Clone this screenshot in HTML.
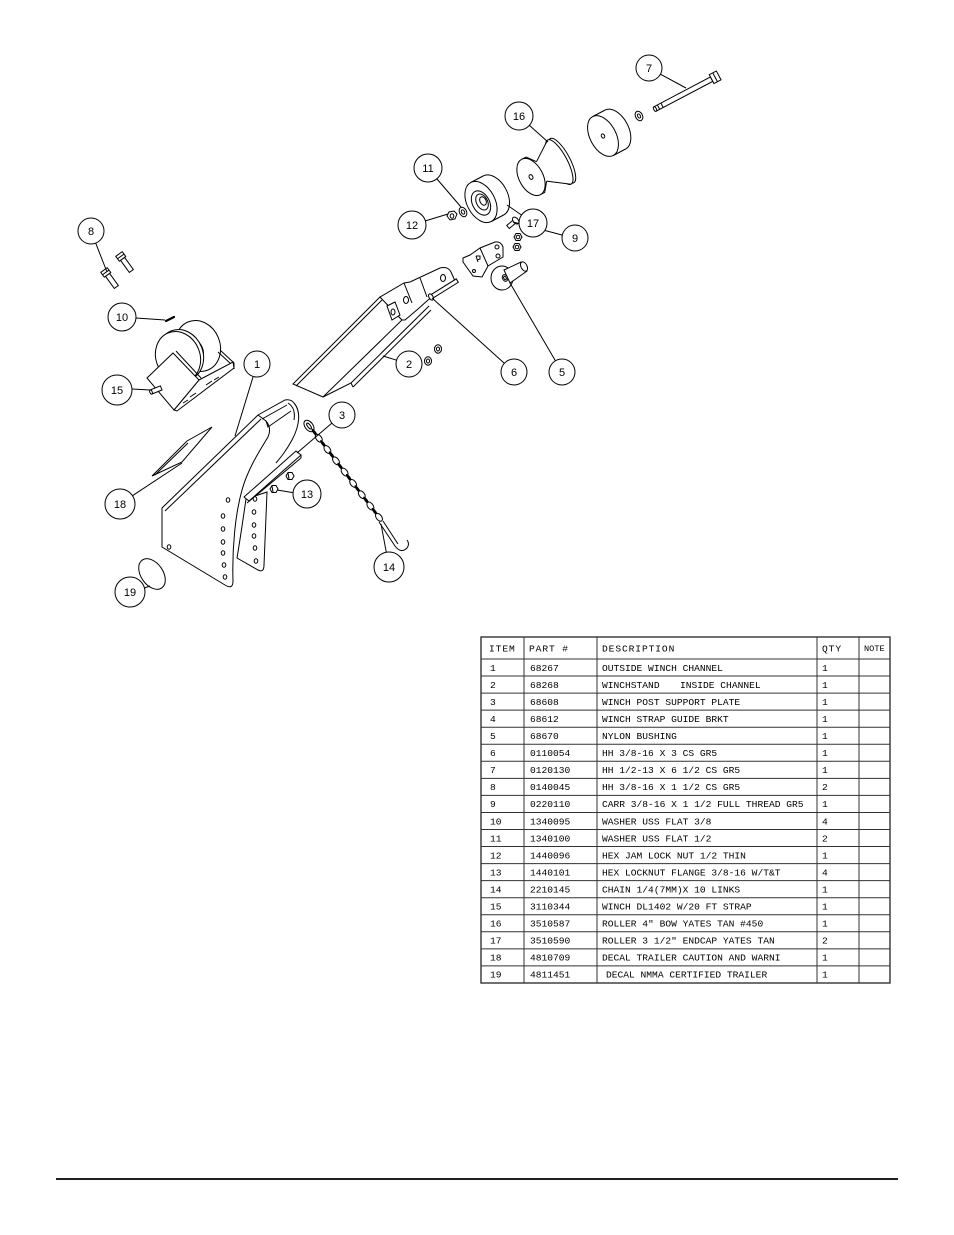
<!DOCTYPE html>
<html><head><meta charset="utf-8"><style>
html,body{margin:0;padding:0;background:#fff}
svg{display:block}
.l{stroke:#000;stroke-width:1;fill:none}
.w{stroke:#000;stroke-width:1;fill:#fff}
.bc{stroke:#000;stroke-width:1;fill:#fff}
.bt{font-family:"Liberation Sans",sans-serif;font-size:11px;text-anchor:middle;fill:#000}
.t{font-family:"Liberation Mono",monospace;font-size:9.6px;fill:#000}
.h{font-family:"Liberation Mono",monospace;font-size:9.6px;fill:#000;letter-spacing:0.9px}
.tl{stroke:#333;stroke-width:1;fill:none}
</style></head><body>
<svg width="954" height="1235" viewBox="0 0 954 1235" xmlns="http://www.w3.org/2000/svg">

<!-- ===== Bolt 7 ===== -->
<g transform="translate(655,109) rotate(-27.8)">
<rect class="w" x="0" y="-2.5" width="64" height="5"/>
<line class="l" x1="4" y1="-2.5" x2="4" y2="2.5"/>
<line class="l" x1="8" y1="-2.5" x2="8" y2="2.5"/>
<rect class="w" x="64" y="-5" width="8" height="10"/>
<line class="l" x1="68" y1="-5" x2="68" y2="5"/>
<ellipse class="w" cx="0" cy="0" rx="1.3" ry="2.5"/>
</g>
<ellipse class="w" cx="639" cy="116" rx="3.5" ry="5" transform="rotate(-28 639 116)"/>
<ellipse class="w" cx="639" cy="116" rx="1.4" ry="2.2" transform="rotate(-28 639 116)"/>

<!-- ===== Right endcap roller ===== -->
<ellipse class="w" cx="615.4" cy="129.5" rx="13" ry="22" transform="rotate(-28 615.4 129.5)"/>
<polygon points="592.8,116.5 605.2,110 625.6,149 613.3,155.5" fill="#fff"/>
<line class="l" x1="592.8" y1="116.5" x2="605.2" y2="110"/>
<line class="l" x1="613.3" y1="155.5" x2="625.6" y2="149"/>
<ellipse class="w" cx="603" cy="136" rx="13" ry="22" transform="rotate(-28 603 136)"/>
<ellipse class="w" cx="603" cy="136" rx="1.6" ry="2.2" transform="rotate(-28 603 136)"/>

<!-- ===== Bow roller 16 ===== -->
<ellipse class="w" cx="562" cy="160.7" rx="8" ry="25" transform="rotate(-28 562 160.7)"/>
<ellipse class="w" cx="559.3" cy="162.1" rx="8" ry="25" transform="rotate(-28 559.3 162.1)"/>
<polygon points="536.5,161.7 547.6,140 571,184.2 546.7,181.1" fill="#fff"/>
<line class="l" x1="536.5" y1="161.7" x2="547.6" y2="140"/>
<line class="l" x1="546.7" y1="181.1" x2="571" y2="184.2"/>
<polygon points="521.7,159.3 526.1,157 536.5,161.7 546.7,181.1 544.7,192.4 540.3,194.7" fill="#fff"/>
<polyline class="l" points="521.7,159.3 526.1,157 536.5,161.7"/>
<polyline class="l" points="540.3,194.7 544.7,192.4 546.7,181.1"/>
<ellipse class="w" cx="531" cy="177" rx="12" ry="20" transform="rotate(-28 531 177)"/>
<ellipse class="w" cx="531" cy="177" rx="1.8" ry="2.5" transform="rotate(-28 531 177)"/>

<!-- ===== Endcap roller 17 ===== -->
<ellipse class="w" cx="493.4" cy="195.5" rx="14" ry="22" transform="rotate(-28 493.4 195.5)"/>
<polygon points="470.8,182.5 483.1,176 503.6,215 491.3,221.5" fill="#fff"/>
<line class="l" x1="470.8" y1="182.5" x2="483.1" y2="176"/>
<line class="l" x1="491.3" y1="221.5" x2="503.6" y2="215"/>
<ellipse class="w" cx="481" cy="202" rx="14" ry="22" transform="rotate(-28 481 202)"/>
<ellipse class="l" cx="481" cy="203" rx="8.5" ry="13" transform="rotate(-28 481 203)"/>
<ellipse class="l" cx="482" cy="202" rx="5.5" ry="8.5" transform="rotate(-28 482 202)"/>
<ellipse class="l" cx="483" cy="201" rx="3" ry="4.5" transform="rotate(-28 483 201)"/>

<!-- washer 11, nut 12 -->
<ellipse class="w" cx="463" cy="212" rx="3.5" ry="5" transform="rotate(-28 463 212)"/>
<ellipse class="w" cx="463" cy="212" rx="1.5" ry="2.3" transform="rotate(-28 463 212)"/>
<polygon class="w" points="447,216 449,212 454,211 457,214 455,219 450,220"/>
<ellipse class="w" cx="452" cy="216" rx="1.8" ry="2.3"/>

<!-- carriage bolt 9 and nuts -->
<g transform="translate(508,227) rotate(-40)">
<rect class="w" x="0" y="-2" width="9" height="4"/>
<ellipse class="w" cx="10" cy="0" rx="2.5" ry="4"/>
</g>
<polygon class="w" points="514,237 516,233.5 520,233.5 522,237 520,240.5 516,240.5"/>
<circle class="l" cx="518" cy="237" r="1.8"/>
<polygon class="w" points="513,247 515,243.5 519,243.5 521,247 519,250.5 515,250.5"/>
<circle class="l" cx="517" cy="247" r="1.8"/>

<!-- strap guide bracket 4 -->
<path class="w" d="M463,258 L470,255 L480,248 L495,242 Q501,241 503,247 L503,257 L488,266 L482,277 L473,276 L463,262 Z"/>
<line class="l" x1="480" y1="248" x2="488" y2="266"/>
<circle class="w" cx="497" cy="247" r="2"/>
<circle class="w" cx="498" cy="256" r="2"/>
<circle class="w" cx="474" cy="271" r="1.5"/>
<path class="l" d="M476,256 L478,262 M476,256 L480,256 L480,259 L477,260"/>

<!-- bushing 5 -->
<ellipse class="w" cx="502" cy="278" rx="11" ry="12"/>
<polygon class="w" points="504,270 521,262 527,271 510,283"/>
<ellipse class="w" cx="524" cy="266.5" rx="3" ry="5" transform="rotate(-28 524 266.5)"/>
<ellipse class="w" cx="505" cy="278" rx="2.5" ry="3.5" transform="rotate(-28 505 278)"/>
<ellipse class="l" cx="505" cy="278" rx="1.2" ry="1.8" transform="rotate(-28 505 278)"/>

<!-- ===== Channel 2 ===== -->
<polygon class="w" points="293,384 380,297 402,320 323,397"/>
<line class="l" x1="296" y1="386" x2="382" y2="300"/>
<path class="l" d="M323,397 L351,383 L429,306"/>
<line class="l" x1="353" y1="387" x2="431" y2="310"/>
<line class="l" x1="351" y1="383" x2="353" y2="387"/>
<path class="w" d="M380,297 L404,283 L410,282 L440,268 Q448,266 451,272 L455,281 L441,291 L428,300 L418,309 L405,320 L402,320 Z"/>
<line class="l" x1="404" y1="283" x2="412" y2="303"/>
<line class="l" x1="420" y1="278" x2="427" y2="297"/>
<ellipse class="w" cx="406" cy="300" rx="2.5" ry="3.5"/>
<ellipse class="w" cx="443" cy="278" rx="2.5" ry="3.5"/>
<path class="w" d="M387,306 L395,302 L400,315 L392,320 Z"/>
<ellipse class="w" cx="393" cy="312" rx="2" ry="3"/>
<g transform="translate(431,297) rotate(-32)">
<rect class="w" x="0" y="-2" width="31" height="4"/>
<ellipse class="w" cx="0" cy="0" rx="2" ry="3.5"/>
</g>
<ellipse class="w" cx="428" cy="361" rx="3.5" ry="4.2"/>
<ellipse class="l" cx="428" cy="361" rx="1.5" ry="2"/>
<ellipse class="w" cx="438" cy="349" rx="3.5" ry="4.2"/>
<ellipse class="l" cx="438" cy="349" rx="1.5" ry="2"/>

<!-- ===== Bolts 8 ===== -->
<g transform="translate(104,270) rotate(54)">
<rect class="w" x="6" y="-2.5" width="15" height="5"/>
<rect class="w" x="0" y="-4" width="6" height="8"/>
<line class="l" x1="3" y1="-4" x2="3" y2="4"/>
</g>
<g transform="translate(119,254) rotate(54)">
<rect class="w" x="6" y="-2.5" width="15" height="5"/>
<rect class="w" x="0" y="-4" width="6" height="8"/>
<line class="l" x1="3" y1="-4" x2="3" y2="4"/>
</g>

<!-- item 10 -->
<line x1="166" y1="321" x2="174" y2="317" stroke="#000" stroke-width="2.2" stroke-linecap="round"/>

<!-- ===== Winch 15 ===== -->
<ellipse class="w" cx="198" cy="346" rx="22" ry="26" transform="rotate(-22 198 346)"/>
<ellipse class="w" cx="194" cy="351" rx="9" ry="12" transform="rotate(-22 194 351)"/>
<ellipse class="w" cx="181" cy="355" rx="22" ry="26" transform="rotate(-22 181 355)"/>
<ellipse class="w" cx="178" cy="357" rx="22" ry="26" transform="rotate(-22 178 357)"/>
<path class="l" d="M220,350 L234,363 L234,369 M218,352 L231,364"/>
<polygon class="w" points="199,380 233,362 234,368 177,411 174,410"/>
<polygon class="w" points="147,378 173,353 199,380 174,410"/>
<line class="l" x1="176" y1="351" x2="201" y2="378"/>
<path class="l" d="M206,385 L212,381 M190,397 L196,393 M214,380 L219,377 M183,403 L188,400"/>
<g transform="translate(151,392) rotate(-22)">
<rect class="w" x="0" y="-2.2" width="11" height="4.4"/>
<ellipse class="w" cx="0" cy="0" rx="1.2" ry="2.2"/>
</g>

<!-- ===== Plate 2 (inside channel) ===== -->
<path class="w" d="M246,499 C243,520 240,540 237,558 L258,570 Q264,573 264,565 C265,540 266,515 267,492 Z"/>
<!-- ===== Channel 1 ===== -->
<path class="w" d="M162,508 L162,547 L225,585 Q233,590 233,581 C232,550 235,515 242,490 C248,468 262,447 268,437 Q272,428 266,421 L258,415 Z"/>
<line class="l" x1="165" y1="511" x2="261" y2="419"/>
<path class="l" d="M258,415 L285,400 Q291,399 294,403 C301,411 300,425 292,440 C286,451 281,457 276,463"/>
<path class="l" d="M262,419 L287,405"/>
<path class="l" d="M266,421 L268,427 L291,411"/>
<path class="l" d="M288,403 Q296,408 294,420"/>
<!-- plate 3 -->
<polygon class="w" points="244,497 296,451 301,455 249,501"/>
<line class="l" x1="247" y1="503" x2="301" y2="458"/>
<line class="l" x1="301" y1="455" x2="301" y2="458"/>
<!-- holes -->
<g class="w">
<ellipse cx="228" cy="500" rx="1.8" ry="2.2"/>
<ellipse cx="223" cy="516" rx="1.8" ry="2.2"/>
<ellipse cx="223" cy="529" rx="1.8" ry="2.2"/>
<ellipse cx="223" cy="542" rx="1.8" ry="2.2"/>
<ellipse cx="223" cy="553" rx="1.8" ry="2.2"/>
<ellipse cx="224" cy="565" rx="1.8" ry="2.2"/>
<ellipse cx="225" cy="577" rx="1.8" ry="2.2"/>
<ellipse cx="169" cy="547" rx="1.8" ry="2.2"/>
<ellipse cx="255" cy="499" rx="1.8" ry="2.2"/>
<ellipse cx="254" cy="512" rx="1.8" ry="2.2"/>
<ellipse cx="254" cy="525" rx="1.8" ry="2.2"/>
<ellipse cx="254" cy="536" rx="1.8" ry="2.2"/>
<ellipse cx="255" cy="548" rx="1.8" ry="2.2"/>
<ellipse cx="256" cy="561" rx="1.8" ry="2.2"/>
</g>
<!-- nuts 13 -->
<polygon class="w" points="286,476 288,472.5 292,472.5 294,476 292,479.5 288,479.5"/>
<line class="l" x1="288" y1="473" x2="289" y2="479"/>
<polygon class="w" points="270,489 272,485.5 276,485.5 278,489 276,492.5 272,492.5"/>
<line class="l" x1="272" y1="486" x2="273" y2="492"/>

<!-- ===== Decals ===== -->
<polygon class="l" points="152,476 187,441 212,427 182,462"/>
<line class="l" x1="155" y1="475" x2="188" y2="443"/>
<ellipse class="l" cx="152" cy="574" rx="11" ry="17" transform="rotate(-35 152 574)"/>

<!-- ===== Chain 14 ===== -->
<g>
<ellipse class="w" cx="309" cy="426" rx="6.5" ry="4" transform="rotate(52.7 309 426)" stroke-width="1.2"/>
<ellipse class="l" cx="309" cy="426" rx="3.5" ry="1.4" transform="rotate(52.7 309 426)"/>
<ellipse cx="314.5" cy="432.5" rx="4.5" ry="1.5" transform="rotate(52.7 314.5 432.5)" fill="#000"/>
<ellipse class="w" cx="318.8" cy="438.2" rx="4.5" ry="2.7" transform="rotate(52.7 318.8 438.2)"/>
<ellipse cx="323.1" cy="443.8" rx="4.5" ry="1.5" transform="rotate(52.7 323.1 443.8)" fill="#000"/>
<ellipse class="w" cx="327.4" cy="449.5" rx="4.5" ry="2.7" transform="rotate(52.7 327.4 449.5)"/>
<ellipse cx="331.7" cy="455.1" rx="4.5" ry="1.5" transform="rotate(52.7 331.7 455.1)" fill="#000"/>
<ellipse class="w" cx="336" cy="460.8" rx="4.5" ry="2.7" transform="rotate(52.7 336 460.8)"/>
<ellipse cx="340.3" cy="466.4" rx="4.5" ry="1.5" transform="rotate(52.7 340.3 466.4)" fill="#000"/>
<ellipse class="w" cx="344.6" cy="472.1" rx="4.5" ry="2.7" transform="rotate(52.7 344.6 472.1)"/>
<ellipse cx="348.9" cy="477.7" rx="4.5" ry="1.5" transform="rotate(52.7 348.9 477.7)" fill="#000"/>
<ellipse class="w" cx="353.2" cy="483.4" rx="4.5" ry="2.7" transform="rotate(52.7 353.2 483.4)"/>
<ellipse cx="357.5" cy="489" rx="4.5" ry="1.5" transform="rotate(52.7 357.5 489)" fill="#000"/>
<ellipse class="w" cx="361.8" cy="494.7" rx="4.5" ry="2.7" transform="rotate(52.7 361.8 494.7)"/>
<ellipse cx="366.1" cy="500.3" rx="4.5" ry="1.5" transform="rotate(52.7 366.1 500.3)" fill="#000"/>
<ellipse class="w" cx="370.4" cy="506" rx="4.5" ry="2.7" transform="rotate(52.7 370.4 506)"/>
<ellipse cx="374.7" cy="511.6" rx="4.5" ry="1.5" transform="rotate(52.7 374.7 511.6)" fill="#000"/>
<ellipse class="w" cx="379" cy="517.3" rx="4.5" ry="2.7" transform="rotate(52.7 379 517.3)"/>
</g>
<path class="l" d="M379,522 L395,546 Q401,554 407,548 Q410,544 407,540" stroke-width="1.1"/>
<path class="l" d="M383,521 L398,544"/>

<!-- ===== Leaders ===== -->
<g class="l">
<line x1="660.4" y1="74.2" x2="686" y2="88"/>
<line x1="529" y1="125" x2="548" y2="142"/>
<line x1="437" y1="179" x2="461" y2="207"/>
<line x1="425" y1="221" x2="448" y2="214"/>
<line x1="507" y1="205" x2="521.5" y2="215"/>
<line x1="513" y1="222" x2="562" y2="235"/>
<line x1="510" y1="283" x2="555.4" y2="360.8"/>
<line x1="432" y1="298" x2="504.3" y2="363.3"/>
<line x1="383" y1="356" x2="396.6" y2="360.2"/>
<line x1="95.7" y1="243.1" x2="107" y2="272"/>
<line x1="136" y1="318" x2="165" y2="320"/>
<line x1="132" y1="389" x2="150" y2="390"/>
<line x1="253.2" y1="376.4" x2="235" y2="436"/>
<line x1="332" y1="423" x2="297" y2="453"/>
<line x1="293" y1="492.6" x2="277" y2="490"/>
<line x1="386.3" y1="552.2" x2="381" y2="524"/>
<line x1="132.5" y1="495.7" x2="182" y2="463"/>
<line x1="144.4" y1="588" x2="150" y2="586"/>
</g>

<!-- ===== Balloons ===== -->
<g>
<circle class="bc" cx="649" cy="68" r="13"/><text class="bt" x="649" y="72">7</text>
<circle class="bc" cx="519" cy="116" r="14"/><text class="bt" x="519" y="120">16</text>
<circle class="bc" cx="428" cy="168" r="14"/><text class="bt" x="428" y="172">11</text>
<circle class="bc" cx="412" cy="225" r="14"/><text class="bt" x="412" y="229">12</text>
<circle class="bc" cx="533" cy="223" r="14"/><text class="bt" x="533" y="227">17</text>
<circle class="bc" cx="575" cy="238" r="13"/><text class="bt" x="575" y="242">9</text>
<circle class="bc" cx="91" cy="231" r="13"/><text class="bt" x="91" y="235">8</text>
<circle class="bc" cx="122" cy="317" r="14"/><text class="bt" x="122" y="321">10</text>
<circle class="bc" cx="117" cy="390" r="15"/><text class="bt" x="117" y="394">15</text>
<circle class="bc" cx="257" cy="364" r="13"/><text class="bt" x="257" y="368">1</text>
<circle class="bc" cx="409" cy="364" r="13"/><text class="bt" x="409" y="368">2</text>
<circle class="bc" cx="514" cy="372" r="13"/><text class="bt" x="514" y="376">6</text>
<circle class="bc" cx="562" cy="372" r="13"/><text class="bt" x="562" y="376">5</text>
<circle class="bc" cx="342" cy="415" r="13"/><text class="bt" x="342" y="419">3</text>
<circle class="bc" cx="120" cy="504" r="15"/><text class="bt" x="120" y="508">18</text>
<circle class="bc" cx="307" cy="494" r="14"/><text class="bt" x="307" y="498">13</text>
<circle class="bc" cx="389" cy="567" r="15"/><text class="bt" x="389" y="571">14</text>
<circle class="bc" cx="130" cy="592" r="15"/><text class="bt" x="130" y="596">19</text>
</g>

<!-- ===== Table ===== -->
<rect x="481" y="637" width="409" height="346" fill="none" stroke="#333" stroke-width="1.4"/>
<g class="tl">
<line x1="524" y1="637" x2="524" y2="983"/>
<line x1="597" y1="637" x2="597" y2="983"/>
<line x1="817" y1="637" x2="817" y2="983"/>
<line x1="859" y1="637" x2="859" y2="983"/>
<line x1="481" y1="659" x2="890" y2="659"/>
<line x1="481" y1="676.05" x2="890" y2="676.05"/>
<line x1="481" y1="693.1" x2="890" y2="693.1"/>
<line x1="481" y1="710.15" x2="890" y2="710.15"/>
<line x1="481" y1="727.2" x2="890" y2="727.2"/>
<line x1="481" y1="744.25" x2="890" y2="744.25"/>
<line x1="481" y1="761.3" x2="890" y2="761.3"/>
<line x1="481" y1="778.35" x2="890" y2="778.35"/>
<line x1="481" y1="795.4" x2="890" y2="795.4"/>
<line x1="481" y1="812.45" x2="890" y2="812.45"/>
<line x1="481" y1="829.5" x2="890" y2="829.5"/>
<line x1="481" y1="846.55" x2="890" y2="846.55"/>
<line x1="481" y1="863.6" x2="890" y2="863.6"/>
<line x1="481" y1="880.65" x2="890" y2="880.65"/>
<line x1="481" y1="897.7" x2="890" y2="897.7"/>
<line x1="481" y1="914.75" x2="890" y2="914.75"/>
<line x1="481" y1="931.8" x2="890" y2="931.8"/>
<line x1="481" y1="948.85" x2="890" y2="948.85"/>
<line x1="481" y1="965.9" x2="890" y2="965.9"/>
</g>
<text class="h" y="651.5"><tspan x="489">ITEM</tspan><tspan x="529">PART #</tspan><tspan x="602">DESCRIPTION</tspan><tspan x="822">QTY</tspan></text>
<text class="t" x="864" y="651" style="font-size:8.6px">NOTE</text>

<g class="t">
<text y="670.8"><tspan x="490">1</tspan><tspan x="530">68267</tspan><tspan x="602">OUTSIDE WINCH CHANNEL</tspan><tspan x="822">1</tspan></text>
<text y="687.9"><tspan x="490">2</tspan><tspan x="530">68268</tspan><tspan x="602">WINCHSTAND</tspan><tspan x="680">INSIDE CHANNEL</tspan><tspan x="822">1</tspan></text>
<text y="704.9"><tspan x="490">3</tspan><tspan x="530">68608</tspan><tspan x="602">WINCH POST SUPPORT PLATE</tspan><tspan x="822">1</tspan></text>
<text y="722.0"><tspan x="490">4</tspan><tspan x="530">68612</tspan><tspan x="602">WINCH STRAP GUIDE BRKT</tspan><tspan x="822">1</tspan></text>
<text y="739.0"><tspan x="490">5</tspan><tspan x="530">68670</tspan><tspan x="602">NYLON BUSHING</tspan><tspan x="822">1</tspan></text>
<text y="756.1"><tspan x="490">6</tspan><tspan x="530">0110054</tspan><tspan x="602">HH 3/8-16 X 3 CS GR5</tspan><tspan x="822">1</tspan></text>
<text y="773.1"><tspan x="490">7</tspan><tspan x="530">0120130</tspan><tspan x="602">HH 1/2-13 X 6 1/2 CS GR5</tspan><tspan x="822">1</tspan></text>
<text y="790.2"><tspan x="490">8</tspan><tspan x="530">0140045</tspan><tspan x="602">HH 3/8-16 X 1 1/2 CS GR5</tspan><tspan x="822">2</tspan></text>
<text y="807.2"><tspan x="490">9</tspan><tspan x="530">0220110</tspan><tspan x="602">CARR 3/8-16 X 1 1/2 FULL THREAD GR5</tspan><tspan x="822">1</tspan></text>
<text y="824.3"><tspan x="490">10</tspan><tspan x="530">1340095</tspan><tspan x="602">WASHER USS FLAT 3/8</tspan><tspan x="822">4</tspan></text>
<text y="841.3"><tspan x="490">11</tspan><tspan x="530">1340100</tspan><tspan x="602">WASHER USS FLAT 1/2</tspan><tspan x="822">2</tspan></text>
<text y="858.4"><tspan x="490">12</tspan><tspan x="530">1440096</tspan><tspan x="602">HEX JAM LOCK NUT 1/2 THIN</tspan><tspan x="822">1</tspan></text>
<text y="875.4"><tspan x="490">13</tspan><tspan x="530">1440101</tspan><tspan x="602">HEX LOCKNUT FLANGE 3/8-16 W/T&amp;T</tspan><tspan x="822">4</tspan></text>
<text y="892.5"><tspan x="490">14</tspan><tspan x="530">2210145</tspan><tspan x="602">CHAIN 1/4(7MM)X 10 LINKS</tspan><tspan x="822">1</tspan></text>
<text y="909.5"><tspan x="490">15</tspan><tspan x="530">3110344</tspan><tspan x="602">WINCH DL1402 W/20 FT STRAP</tspan><tspan x="822">1</tspan></text>
<text y="926.6"><tspan x="490">16</tspan><tspan x="530">3510587</tspan><tspan x="602">ROLLER 4" BOW YATES TAN #450</tspan><tspan x="822">1</tspan></text>
<text y="943.6"><tspan x="490">17</tspan><tspan x="530">3510590</tspan><tspan x="602">ROLLER 3 1/2" ENDCAP YATES TAN</tspan><tspan x="822">2</tspan></text>
<text y="960.7"><tspan x="490">18</tspan><tspan x="530">4810709</tspan><tspan x="602">DECAL TRAILER CAUTION AND WARNI</tspan><tspan x="822">1</tspan></text>
<text y="977.7"><tspan x="490">19</tspan><tspan x="530">4811451</tspan><tspan x="606">DECAL NMMA CERTIFIED TRAILER</tspan><tspan x="822">1</tspan></text>
</g>

<!-- bottom rule -->
<rect x="56" y="1178" width="842" height="2" fill="#231f20"/>
</svg>
</body></html>
